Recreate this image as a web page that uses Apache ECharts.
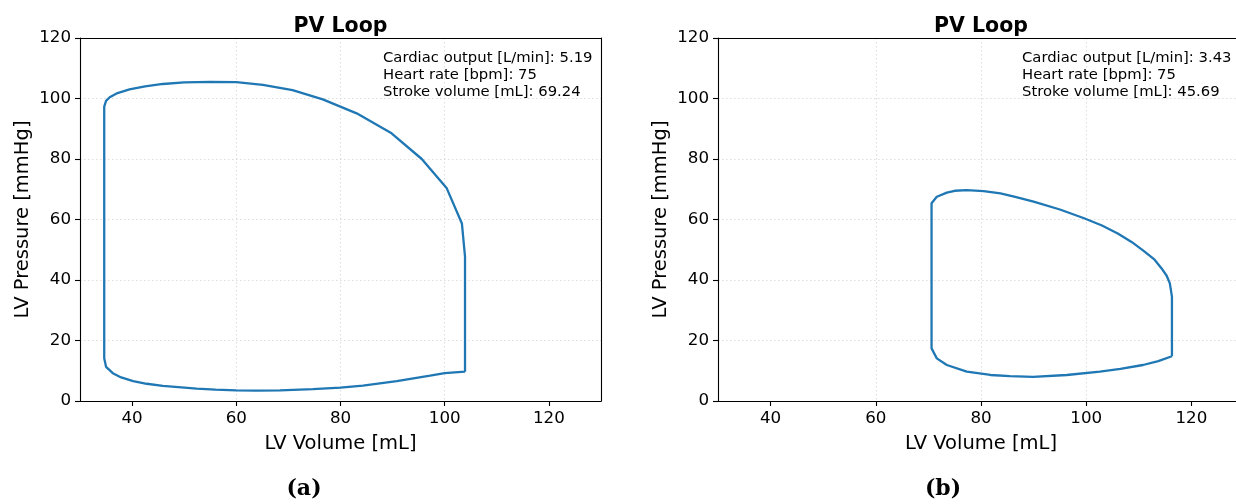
<!DOCTYPE html>
<html>
<head>
<meta charset="utf-8">
<script src="https://cdn.jsdelivr.net/npm/echarts@6/dist/echarts.min.js"></script>
<style>
html,body{margin:0;padding:0;background:#fff;}
#chart{width:1236px;height:504px;}
</style>
</head>
<body>
<div id="chart"></div>
<script>
// ---- Data ----
// Panel (a)
const volumeA = [103.9, 103.9, 103.9, 103.3, 100.4, 95.6, 89.8, 83.1, 76.6, 70.8, 65.1, 60.0, 55.0, 50.0, 45.9, 42.5, 39.5, 37.2, 35.7, 35.0, 34.65,
                 34.65, 35.0, 36.3, 37.9, 40.2, 42.8, 45.9, 52.4, 56.0, 60.0, 64.0, 68.4, 74.7, 80.0, 84.3, 90.8, 97.2, 100.0, 103.9];
const pressureA = [9.7, 30.0, 47.7, 58.7, 70.3, 80.0, 88.5, 95.1, 99.7, 102.8, 104.5, 105.4, 105.5, 105.3, 104.8, 104.0, 103.0, 101.8, 100.4, 99.2, 97.3,
                   14.1, 11.3, 9.2, 7.8, 6.6, 5.7, 5.0, 4.1, 3.75, 3.5, 3.4, 3.5, 3.9, 4.4, 5.1, 6.6, 8.4, 9.2, 9.7];
// Panel (b)
const volumeB = [116.3, 116.3, 115.9, 115.3, 114.3, 113.0, 111.1, 108.7, 106.0, 103.0, 99.6, 95.0, 90.0, 86.5, 83.7, 80.5, 77.3, 75.0, 73.5, 71.6, 70.6,
                 70.6, 71.6, 73.5, 77.3, 81.8, 85.5, 89.9, 96.3, 102.6, 106.5, 110.8, 113.7, 116.3];
const pressureB = [14.8, 34.5, 38.9, 41.4, 43.9, 46.7, 49.4, 52.5, 55.4, 58.0, 60.4, 63.3, 65.9, 67.5, 68.6, 69.4, 69.7, 69.5, 68.9, 67.5, 65.4,
                   17.4, 14.1, 11.9, 9.7, 8.6, 8.2, 8.0, 8.6, 9.7, 10.6, 11.9, 13.2, 14.8];
const annotA = ["Cardiac output [L/min]: 5.19", "Heart rate [bpm]: 75", "Stroke volume [mL]: 69.24"];
const annotB = ["Cardiac output [L/min]: 3.43", "Heart rate [bpm]: 75", "Stroke volume [mL]: 45.69"];
const xTicks = [40, 60, 80, 100, 120];
const yTicks = [0, 20, 40, 60, 80, 100, 120];
const titles = ["PV Loop", "PV Loop"];
const subLabels = ["(a)", "(b)"];
const xName = "LV Volume [mL]";
const yName = "LV Pressure [mmHg]";

// ---- Build ----
const FONT = "DejaVu Sans";
const grids = [
  {left: 80, top: 38, width: 521, height: 363},
  {left: 718, top: 38, width: 526, height: 363}
];
const spine = {show: true, onZero: false, lineStyle: {color: '#000', width: 1.1}};
function xAxis(i){
  return {
    type: 'value', gridIndex: i, min: 30, max: 130,
    name: xName, nameLocation: 'middle', nameGap: 33,
    nameTextStyle: {fontFamily: FONT, fontSize: 19.5, color: '#000'},
    axisLine: spine,
    axisTick: {show: true, length: 5, inside: false, lineStyle: {color: '#000', width: 1.1},
      customValues: xTicks},
    axisLabel: {fontFamily: FONT, fontSize: 16.7, color: '#000', margin: 9,
      formatter: v => xTicks.includes(v) ? String(v) : ''},
    splitLine: {show: true, showMinLine: false, showMaxLine: false,
      lineStyle: {color: '#d9d9d9', type: [1.5, 2.5], width: 0.9}}
  };
}
function yAxis(i){
  return {
    type: 'value', gridIndex: i, min: 0, max: 120, interval: 20,
    name: yName, nameLocation: 'middle', nameGap: 47,
    nameTextStyle: {fontFamily: FONT, fontSize: 19.5, color: '#000'},
    axisLine: spine,
    axisTick: {show: true, length: 5, lineStyle: {color: '#000', width: 1.1}},
    axisLabel: {fontFamily: FONT, fontSize: 16.7, color: '#000', margin: 9,
      formatter: v => yTicks.includes(v) ? String(v) : ''},
    splitLine: {show: true, showMinLine: false, showMaxLine: false,
      lineStyle: {color: '#d9d9d9', type: [1.5, 2.5], width: 0.9}}
  };
}
function spineAxis(i, pos, isX){
  return {
    type: 'value', gridIndex: i, position: pos,
    min: isX ? 30 : 0, max: isX ? 130 : 120,
    axisLine: spine, axisTick: {show: false}, axisLabel: {show: false}, splitLine: {show: false}
  };
}
function pairs(xs, ys){ return xs.map((x, k) => [x, ys[k]]); }

const graphics = [];
const centers = [80 + 521/2, 718 + 526/2];
const annX = [383, 1022];
const subX = [304, 943];
[annotA, annotB].forEach((lines, i) => {
  lines.forEach((t, j) => {
    graphics.push({type: 'text', left: annX[i], top: 51 + j*17, z: 10,
      style: {text: t, font: '14.8px "DejaVu Sans"', fill: '#000'}});
  });
  graphics.push({type: 'text', x: centers[i], y: 27, z: 10,
    style: {text: titles[i], font: 'bold 20.5px "DejaVu Sans"', fill: '#000', textAlign: 'center', textVerticalAlign: 'middle'}});
  graphics.push({type: 'text', x: subX[i], y: 489, z: 10,
    style: {text: subLabels[i], font: 'bold 22px "DejaVu Serif"', fill: '#000', textAlign: 'center', textVerticalAlign: 'middle'}});
});

const chart = echarts.init(document.getElementById('chart'), null, {renderer: 'canvas'});
chart.setOption({
  animation: false,
  backgroundColor: '#fff',
  grid: grids.map(g => Object.assign({show: false, outerBoundsMode: 'none', containLabel: false}, g)),
  xAxis: [xAxis(0), xAxis(1), spineAxis(0, 'top', true), spineAxis(1, 'top', true)],
  yAxis: [yAxis(0), yAxis(1), spineAxis(0, 'right', false), spineAxis(1, 'right', false)],
  series: [
    {type: 'line', xAxisIndex: 0, yAxisIndex: 0, data: pairs(volumeA, pressureA), showSymbol: false,
     lineStyle: {color: '#1f77b4', width: 2.3}, itemStyle: {color: '#1f77b4'}, smooth: false},
    {type: 'line', xAxisIndex: 1, yAxisIndex: 1, data: pairs(volumeB, pressureB), showSymbol: false,
     lineStyle: {color: '#1f77b4', width: 2.3}, itemStyle: {color: '#1f77b4'}, smooth: false}
  ],
  graphic: graphics
});
</script>
</body>
</html>
